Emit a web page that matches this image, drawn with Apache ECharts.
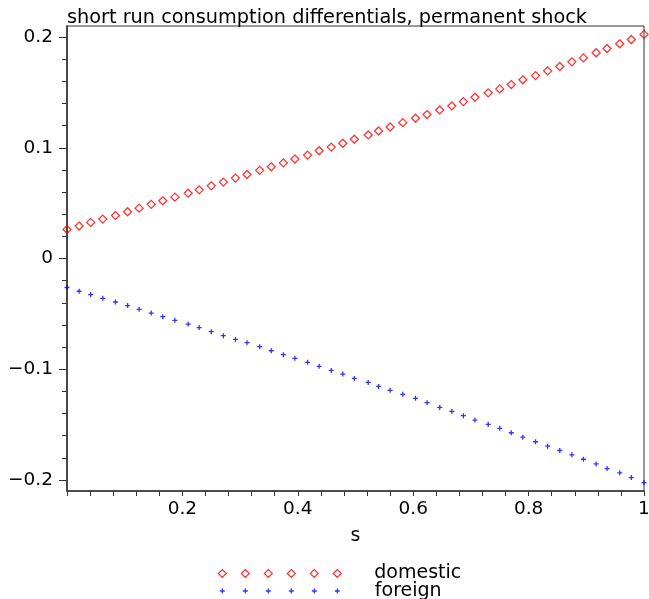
<!DOCTYPE html>
<html>
<head>
<meta charset="utf-8">
<script src="https://cdn.jsdelivr.net/npm/echarts@6/dist/echarts.min.js"></script>
<style>
html,body{margin:0;padding:0;background:#fff;}
#chart{width:649px;height:599px;}
</style>
</head>
<body>
<div id="chart"></div>
<script>
// ---- data ----
const titleText = 'short run consumption differentials, permanent shock';
const xName = 's';
const seriesNames = ['domestic', 'foreign'];

const sValues = [0, 0.021, 0.041, 0.062, 0.084, 0.105, 0.125, 0.146, 0.166, 0.187,
  0.21, 0.229, 0.25, 0.271, 0.292, 0.312, 0.334, 0.354, 0.375, 0.395,
  0.417, 0.437, 0.458, 0.478, 0.498, 0.522, 0.54, 0.56, 0.582, 0.604,
  0.624, 0.646, 0.667, 0.687, 0.707, 0.73, 0.75, 0.77, 0.79, 0.812,
  0.833, 0.854, 0.875, 0.895, 0.917, 0.936, 0.958, 0.978, 1];

const domesticValues = [0.0262, 0.0293, 0.0326, 0.0356, 0.0389, 0.0422, 0.0455, 0.0489, 0.0521, 0.0554,
  0.0590, 0.0620, 0.0656, 0.0690, 0.0726, 0.0759, 0.0796, 0.0828, 0.0864, 0.0898,
  0.0934, 0.0973, 0.1006, 0.1041, 0.1077, 0.1116, 0.1152, 0.1188, 0.1227, 0.1267,
  0.1300, 0.1342, 0.1378, 0.1417, 0.1457, 0.1496, 0.1532, 0.1571, 0.1614, 0.1652,
  0.1695, 0.1734, 0.1776, 0.1812, 0.1858, 0.1897, 0.1939, 0.1978, 0.2024];

const foreignValues = [-0.0262, -0.0296, -0.0326, -0.0360, -0.0393, -0.0425, -0.0459, -0.0493, -0.0525, -0.0558,
  -0.0592, -0.0624, -0.0661, -0.0697, -0.0731, -0.0760, -0.0796, -0.0833, -0.0869, -0.0902,
  -0.0938, -0.0974, -0.1011, -0.1044, -0.1083, -0.1119, -0.1155, -0.1191, -0.1227, -0.1263,
  -0.1302, -0.1345, -0.1381, -0.1420, -0.1459, -0.1498, -0.1534, -0.1574, -0.1614, -0.1655,
  -0.1695, -0.1734, -0.1773, -0.1813, -0.1855, -0.1897, -0.1936, -0.1979, -0.2024];

const yMajorTicks = [-0.2, -0.1, 0, 0.1, 0.2];
const yMinorTicks = [-0.18, -0.16, -0.14, -0.12, -0.08, -0.06, -0.04, -0.02,
  0.02, 0.04, 0.06, 0.08, 0.12, 0.14, 0.16, 0.18];

// ---- build chart ----
const FONT = 'DejaVu Sans';
const AX = '#333333';
const pair = (xs, ys) => xs.map((x, i) => [x, ys[i]]);

// legend sample strips (6 repeated symbols)
function diamondStrip() {
  let p = 'path://';
  for (let i = 0; i < 6; i++) {
    const c = 4 + 23 * i;
    p += 'M' + c + ',0L' + (c + 4) + ',4L' + c + ',8L' + (c - 4) + ',4Z';
  }
  return p;
}
function plusStrip() {
  let p = 'path://';
  for (let i = 0; i < 6; i++) {
    const c = 4 + 23 * i;
    p += 'M' + (c - 2.5) + ',4L' + (c + 2.5) + ',4M' + c + ',1.5L' + c + ',6.5';
  }
  return p;
}
const plusSymbol = 'path://M0,5L10,5M5,0L5,10';

const chart = echarts.init(document.getElementById('chart'), null, {renderer: 'canvas'});
chart.setOption({
  animation: false,
  backgroundColor: '#ffffff',
  title: {
    text: titleText,
    left: 67, top: 8, padding: 0,
    textStyle: {fontFamily: FONT, fontSize: 19.3, fontWeight: 'normal', color: '#000'}
  },
  legend: [{
    data: [seriesNames[0]],
    orient: 'vertical', left: 217.7, top: 564, padding: 0,
    itemWidth: 123, itemHeight: 8,
    icon: diamondStrip(),
    itemStyle: {color: 'rgba(0,0,0,0)', borderColor: '#ff0000', borderWidth: 1.2},
    textStyle: {fontFamily: FONT, fontSize: 19, color: '#000', padding: [0, 0, 0, 28]},
    selectedMode: false
  }, {
    data: [seriesNames[1]],
    orient: 'vertical', left: 219.2, top: 581.5, padding: 0,
    itemWidth: 120, itemHeight: 5,
    icon: plusStrip(),
    itemStyle: {color: 'rgba(0,0,0,0)', borderColor: '#0000ff', borderWidth: 1.3},
    textStyle: {fontFamily: FONT, fontSize: 19, color: '#000', padding: [0, 0, 0, 30]},
    selectedMode: false
  }],
  grid: {
    left: 67, right: 5, top: 26, bottom: 108,
    show: true, borderColor: AX, borderWidth: 1, backgroundColor: 'transparent',
    containLabel: false, outerBoundsMode: 'none'
  },
  xAxis: {
    type: 'value', min: 0, max: 1, interval: 0.2,
    name: xName, nameLocation: 'middle', nameGap: 36,
    nameTextStyle: {fontFamily: FONT, fontSize: 19, color: '#000'},
    axisLine: {onZero: false, lineStyle: {color: AX, width: 1.6}},
    axisTick: {show: true, length: 5, lineStyle: {color: AX}},
    minorTick: {show: true, splitNumber: 5, length: 5, lineStyle: {color: AX}},
    splitLine: {show: false},
    axisLabel: {showMinLabel: false, margin: 9, fontFamily: FONT, fontSize: 18.5, color: '#000'}
  },
  yAxis: [{
    type: 'value', min: -0.21, max: 0.21,
    axisLine: {show: true, onZero: false, lineStyle: {color: AX, width: 1.6}},
    axisTick: {show: true, length: 8, customValues: yMajorTicks, lineStyle: {color: AX}},
    splitLine: {show: false},
    axisLabel: {
      customValues: yMajorTicks, margin: 14,
      fontFamily: FONT, fontSize: 18.5, color: '#000',
      formatter: v => String(Math.round(v * 10) / 10).replace('-', '\u2212')
    }
  }, {
    type: 'value', min: -0.21, max: 0.21, position: 'left', offset: 0,
    axisLine: {show: false},
    axisTick: {show: true, length: 5, customValues: yMinorTicks, lineStyle: {color: AX}},
    splitLine: {show: false},
    axisLabel: {show: false}
  }],
  series: [{
    name: seriesNames[0], type: 'scatter', yAxisIndex: 0,
    data: pair(sValues, domesticValues),
    symbol: 'diamond', symbolSize: [8, 8],
    itemStyle: {color: 'rgba(0,0,0,0)', borderColor: '#ff0000', borderWidth: 1.3},
    clip: false
  }, {
    name: seriesNames[1], type: 'scatter', yAxisIndex: 0,
    data: pair(sValues, foreignValues),
    symbol: plusSymbol, symbolSize: [5, 5],
    itemStyle: {color: 'rgba(0,0,0,0)', borderColor: '#0000ff', borderWidth: 1.3},
    clip: false
  }]
});
</script>
</body>
</html>
